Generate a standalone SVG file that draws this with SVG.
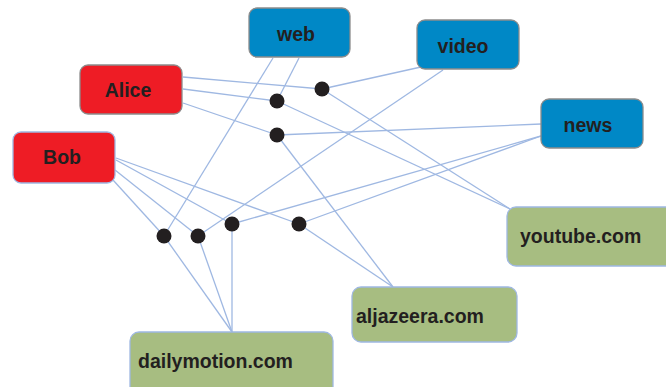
<svg xmlns="http://www.w3.org/2000/svg" width="666" height="387" viewBox="0 0 666 387">
<style>
.e{stroke:#9fb8e2;stroke-width:1.3;fill:none}
.dot{fill:#231f20}
.blue{fill:#0088c6;stroke:#8c8c8c;stroke-width:1.3}
.red{fill:#ee1c25;stroke:#8c8c8c;stroke-width:1.3}
.redb{fill:#ee1c25;stroke:#9fb8e2;stroke-width:1.3}
.green{fill:#a7bd81;stroke:#9fb8e2;stroke-width:1.3}
text{font-family:"Liberation Sans",Arial,sans-serif;font-weight:bold;font-size:19.5px;fill:#231f20}
.c{text-anchor:middle}
</style>
<rect width="666" height="387" fill="#ffffff"/>
<g id="connectors">
<line class="e" x1="183" y1="77" x2="322" y2="89"/>
<line class="e" x1="183" y1="89" x2="277" y2="101"/>
<line class="e" x1="183" y1="103" x2="277" y2="135"/>
<line class="e" x1="273" y1="58" x2="164" y2="236"/>
<line class="e" x1="299" y1="58" x2="277" y2="101"/>
<line class="e" x1="421" y1="67" x2="322" y2="89"/>
<line class="e" x1="443" y1="70" x2="198" y2="236"/>
<line class="e" x1="541" y1="124" x2="277" y2="135"/>
<line class="e" x1="541" y1="136" x2="232" y2="224"/>
<line class="e" x1="541" y1="136" x2="299" y2="224"/>
<line class="e" x1="116" y1="158" x2="299" y2="224"/>
<line class="e" x1="116" y1="160" x2="232" y2="224"/>
<line class="e" x1="115" y1="170" x2="198" y2="236"/>
<line class="e" x1="113" y1="180" x2="164" y2="236"/>
<line class="e" x1="322" y1="89" x2="510" y2="209"/>
<line class="e" x1="277" y1="101" x2="510" y2="209"/>
<line class="e" x1="277" y1="135" x2="393" y2="287"/>
<line class="e" x1="299" y1="224" x2="393" y2="287"/>
<line class="e" x1="164" y1="236" x2="232" y2="332"/>
<line class="e" x1="198" y1="236" x2="232" y2="332"/>
<line class="e" x1="232" y1="224" x2="232" y2="332"/>
</g>
<g id="web"><rect class="blue" x="249" y="8" width="101" height="49" rx="8"/><text class="c" x="296" y="41">web</text></g>
<g id="video"><rect class="blue" x="417" y="20" width="102" height="49" rx="8"/><text class="c" x="463" y="53">video</text></g>
<g id="news"><rect class="blue" x="541" y="99" width="102" height="49" rx="8"/><text class="c" x="588" y="132">news</text></g>
<g id="alice"><rect class="red" x="80" y="65" width="102" height="49" rx="8"/><text class="c" x="128" y="97">Alice</text></g>
<g id="bob"><rect class="redb" x="13" y="132" width="102" height="51" rx="8"/><text class="c" x="62" y="164">Bob</text></g>
<g id="youtube"><rect class="green" x="507" y="207" width="170" height="59" rx="9"/><text x="520" y="243">youtube.com</text></g>
<g id="aljazeera"><rect class="green" x="352" y="287" width="165" height="55" rx="9"/><text x="356" y="323">aljazeera.com</text></g>
<g id="dailymotion"><rect class="green" x="130" y="332" width="203" height="66" rx="9"/><text x="138" y="368">dailymotion.com</text></g>
<g id="dots">
<circle id="d1" class="dot" cx="322" cy="89" r="7.5"/>
<circle id="d2" class="dot" cx="277" cy="101" r="7.5"/>
<circle id="d3" class="dot" cx="277" cy="135" r="7.5"/>
<circle id="d4" class="dot" cx="164" cy="236" r="7.5"/>
<circle id="d5" class="dot" cx="198" cy="236" r="7.5"/>
<circle id="d6" class="dot" cx="232" cy="224" r="7.5"/>
<circle id="d7" class="dot" cx="299" cy="224" r="7.5"/>
</g>
</svg>
